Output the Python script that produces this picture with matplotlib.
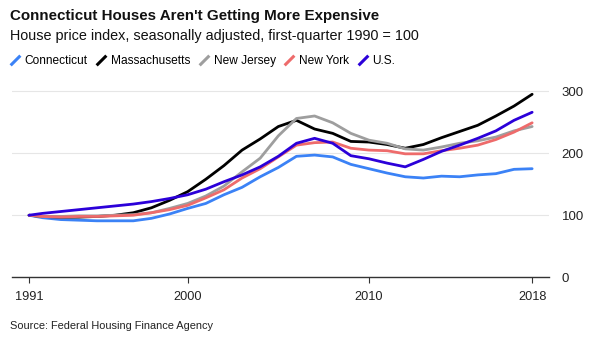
import matplotlib
matplotlib.use("Agg")
import matplotlib.pyplot as plt
from matplotlib.lines import Line2D
from matplotlib.path import Path

plt.rcParams["font.family"] = ["Liberation Sans", "DejaVu Sans"]

# annual readings (first point is 1991 start)
years = [1991.25] + list(range(1992, 2020))

connecticut = [100, 96, 93, 92, 91, 91, 91, 95, 102, 111, 119, 133, 145, 162, 177,
               195, 197, 194, 182, 175, 168, 162, 160, 163, 162, 165, 167, 174, 175]
massachusetts = [100, 98, 97, 97, 98, 100, 104, 112, 124, 138, 158, 180, 205, 223, 243,
                 253, 239, 232, 219, 218, 214, 208, 214, 225, 235, 245, 260, 276, 295]
new_jersey = [100, 98, 98, 99, 99, 100, 101, 104, 111, 119, 131, 147, 170, 192, 228,
              256, 260, 249, 232, 221, 216, 207, 205, 210, 216, 220, 226, 236, 243]
new_york = [100, 98, 97, 98, 98, 99, 100, 104, 109, 116, 128, 141, 160, 175, 194,
            213, 217, 218, 208, 205, 204, 199, 199, 204, 208, 213, 222, 234, 249]
us = [100, 103, 106, 109, 112, 115, 118, 122, 127, 133, 142, 154, 165, 178, 195,
      216, 224, 216, 196, 191, 184, 178, 190, 203, 213, 224, 236, 253, 266]

names = ["Connecticut", "Massachusetts", "New Jersey", "New York", "U.S."]
colors = ["#3b82f6", "#000000", "#9e9e9e", "#ee6b6b", "#2b00d9"]
series = [connecticut, massachusetts, new_jersey, new_york, us]

x_ticks = [years[0], 2000, 2010, years[-1]]
x_labels = ["1991", "2000", "2010", "2018"]
y_ticks = [0, 100, 200, 300]

fig = plt.figure(figsize=(6, 3.44), dpi=100)
ax = fig.add_axes([0.02, 0.194, 0.895, 0.559])

for vals, c, n in zip(series, colors, names):
    ax.plot(years, vals, color=c, lw=2.0, label=n, solid_capstyle="round")

ax.set_xlim(1990.31, 2019.93)
ax.set_ylim(0, 310)
ax.set_yticks(y_ticks)
ax.set_xticks(x_ticks)
ax.set_xticklabels(x_labels)
ax.yaxis.tick_right()
ax.grid(axis="y", color="#e6e6e6", lw=0.8)
ax.set_axisbelow(True)
for s in ["top", "left", "right"]:
    ax.spines[s].set_visible(False)
ax.spines["bottom"].set_color("#333333")
ax.spines["bottom"].set_linewidth(1.0)
ax.tick_params(axis="y", length=0, pad=9, labelsize=9.5, labelcolor="#222222")
ax.tick_params(axis="x", length=4, width=0.8, color="#333333", pad=6, labelsize=9.2, labelcolor="#222222")

fig.text(0.017, 0.953, "Connecticut Houses Aren't Getting More Expensive",
         fontsize=10.9, fontweight="bold", va="center", color="#111111")
fig.text(0.017, 0.895, "House price index, seasonally adjusted, first-quarter 1990 = 100",
         fontsize=10.4, va="center", color="#111111")
fig.text(0.017, 0.052, "Source: Federal Housing Finance Agency",
         fontsize=7.9, va="center", color="#222222")

slash = Path([(-1, -1), (1, 1)], [Path.MOVETO, Path.LINETO])
handles = [Line2D([], [], color=c, marker=slash, linestyle="None", markersize=7,
                  markeredgewidth=2.2) for c in colors]
fig.legend(handles, names, loc="center left", bbox_to_anchor=(0.008, 0.822), ncol=5,
           frameon=False, fontsize=8.6, handlelength=0.9, handletextpad=0.35,
           columnspacing=0.7, borderaxespad=0)

fig.savefig("out.png", dpi=100, facecolor="white")
